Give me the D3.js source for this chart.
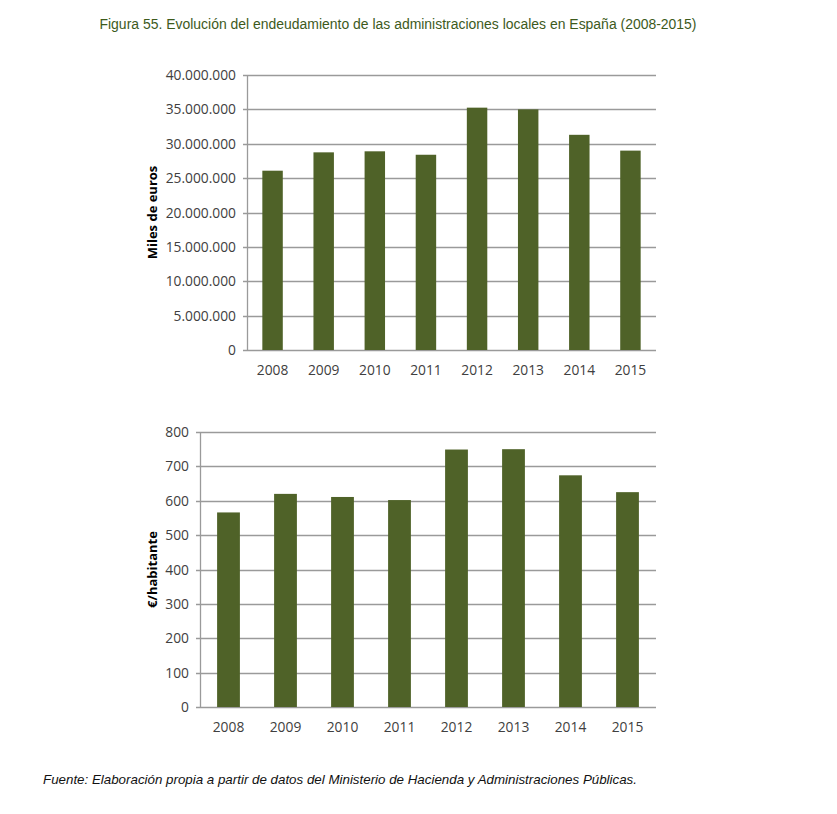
<!DOCTYPE html>
<html>
<head>
<meta charset="utf-8">
<script src="https://cdn.jsdelivr.net/npm/d3@7"></script>
<style>
  body { margin: 0; background: #fff; }
  svg { display: block; }
</style>
</head>
<body>
<svg width="837" height="814"></svg>
<script>
// datos
const years = ["2008", "2009", "2010", "2011", "2012", "2013", "2014", "2015"];
const milesEuros = [26080000, 28750000, 28900000, 28400000, 35250000, 35000000, 31300000, 29000000];
const porHabitante = [566, 620, 611, 602, 749, 750, 674, 625];
const ticksTop = [0, 5000000, 10000000, 15000000, 20000000, 25000000, 30000000, 35000000, 40000000];
const ticksBottom = [0, 100, 200, 300, 400, 500, 600, 700, 800];

var svg = d3.select("svg");
var barColor = "#4f6228";
var gridColor = "#9a9a9a";
var txtColor = "#404040";
var tickFont = "'Open Sans', sans-serif";

svg.append("text")
    .attr("x", 398)
    .attr("y", 29)
    .attr("text-anchor", "middle")
    .attr("font-family", "'Liberation Sans', Arial, sans-serif")
    .attr("font-size", "14px")
    .attr("textLength", 597)
    .attr("lengthAdjust", "spacingAndGlyphs")
    .attr("fill", "#3d5a1c")
    .text("Figura 55. Evolución del endeudamiento de las administraciones locales en España (2008-2015)");

var fmt = d3.formatLocale({ decimal: ",", thousands: ".", grouping: [3], currency: ["", "€"] }).format(",d");

function drawChart(opts) {
    var x = d3.scaleBand()
        .domain(years)
        .range([opts.left, opts.right])
        .paddingInner(0.6)
        .paddingOuter(0.3);

    var y = d3.scaleLinear()
        .domain([0, opts.max])
        .range([opts.bottom, opts.top]);

    var g = svg.append("g");

    // lineas de la cuadricula
    g.selectAll("line.grid")
        .data(opts.ticks)
        .enter()
        .append("line")
        .attr("class", "grid")
        .attr("x1", opts.left - 4)
        .attr("x2", opts.right)
        .attr("y1", d => Math.round(y(d)) + 0.5)
        .attr("y2", d => Math.round(y(d)) + 0.5)
        .attr("stroke", gridColor)
        .attr("stroke-width", 1.3);

    g.append("line")
        .attr("x1", opts.left + 0.5)
        .attr("x2", opts.left + 0.5)
        .attr("y1", y(opts.max))
        .attr("y2", y(0))
        .attr("stroke", gridColor)
        .attr("stroke-width", 1.3);

    g.selectAll("rect")
        .data(opts.values)
        .enter()
        .append("rect")
        .attr("x", (d, i) => x(years[i]))
        .attr("width", x.bandwidth())
        .attr("y", d => y(d))
        .attr("height", d => y(0) - y(d))
        .attr("fill", barColor);

    g.selectAll("text.ytick")
        .data(opts.ticks)
        .enter()
        .append("text")
        .attr("class", "ytick")
        .attr("x", opts.left - 11)
        .attr("y", d => y(d) + 5)
        .attr("text-anchor", "end")
        .attr("font-family", tickFont)
        .attr("font-size", "13.8px")
        .attr("fill", txtColor)
        .text(d => fmt(d));

    g.selectAll("text.xtick")
        .data(years)
        .enter()
        .append("text")
        .attr("class", "xtick")
        .attr("x", d => x(d) + x.bandwidth() / 2)
        .attr("y", opts.bottom + 25)
        .attr("text-anchor", "middle")
        .attr("font-family", tickFont)
        .attr("font-size", "13.8px")
        .attr("fill", txtColor)
        .text(d => d);

    g.append("text")
        .attr("transform", "translate(" + opts.labelX + "," + ((opts.top + opts.bottom) / 2) + ") rotate(-90)")
        .attr("text-anchor", "middle")
        .attr("font-family", tickFont)
        .attr("font-weight", "bold")
        .attr("font-size", "13px")
        .attr("fill", "#000")
        .text(opts.label);
}

drawChart({
    values: milesEuros, ticks: ticksTop, max: 40000000,
    left: 247, right: 656, top: 75, bottom: 350,
    label: "Miles de euros", labelX: 157
});

drawChart({
    values: porHabitante, ticks: ticksBottom, max: 800,
    left: 200, right: 656, top: 432, bottom: 707,
    label: "€/habitante", labelX: 157
});

svg.append("text")
    .attr("x", 43)
    .attr("y", 784)
    .attr("font-family", "'Liberation Sans', Arial, sans-serif")
    .attr("font-style", "italic")
    .attr("font-size", "13px")
    .attr("textLength", 594)
    .attr("lengthAdjust", "spacingAndGlyphs")
    .attr("fill", "#111")
    .text("Fuente: Elaboración propia a partir de datos del Ministerio de Hacienda y Administraciones Públicas.");
</script>
</body>
</html>
